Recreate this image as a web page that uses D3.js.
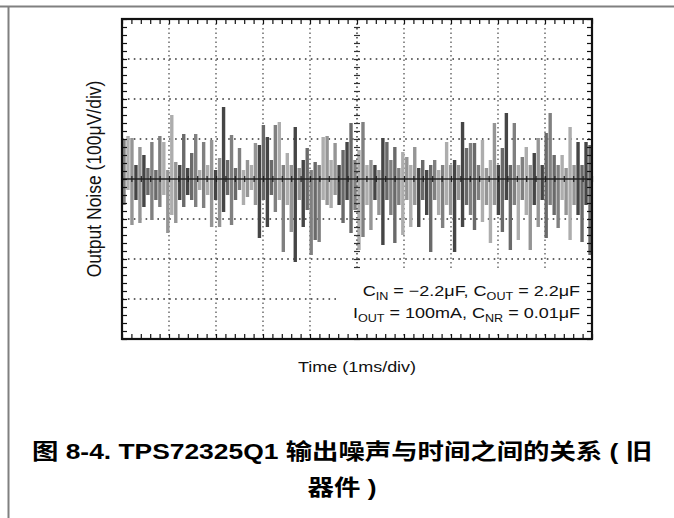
<!DOCTYPE html>
<html><head><meta charset="utf-8">
<script src="https://cdn.jsdelivr.net/npm/d3@7"></script>
<style>body{margin:0;background:#fff} svg{display:block}</style>
</head><body>
<script>
// ---- data ----
const timeDomain = [0, 10];          // ms (1 ms/div, 10 div)
const voltDomain = [-400, 400];      // µV (100 µV/div, 8 div)
const noiseHigh = [97.5,107.5,102.5,35,80,60,27.5,92.5,22.5,107.5,
  92.5,22.5,160,42.5,35,112.5,27.5,65,112.5,22.5,
  92.5,35,97.5,22.5,52.5,180,47.5,110,27.5,77.5,
  22.5,47.5,35,90,85,135,105,47.5,135,142.5,
  35,65,35,130,27.5,47.5,77.5,22.5,42.5,35,
  105,107.5,47.5,90,35,72.5,92.5,140,47.5,72.5,
  142.5,35,47.5,35,22.5,102.5,92.5,47.5,80,27.5,
  67.5,55,35,80,27.5,47.5,22.5,35,47.5,22.5,
  35,92.5,35,47.5,35,142.5,77.5,90,90,35,
  97.5,27.5,47.5,140,35,77.5,165,35,140,35,
  55,80,35,65,102.5,35,115,165,60,35,
  60,27.5,130,35,92.5,35,92.5,85];
const noiseLow = [-65,-27.5,-115,-52.5,-110,-70,-40,-102.5,-52.5,-70,
  -40,-135,-90,-110,-52.5,-70,-40,-52.5,-70,-27.5,
  -72.5,-40,-120,-52.5,-120,-82.5,-40,-115,-52.5,-27.5,
  -65,-45,-27.5,-65,-147.5,-52.5,-120,-40,-82.5,-52.5,
  -182.5,-65,-132.5,-207.5,-52.5,-120,-77.5,-190,-152.5,-157.5,
  -52.5,-65,-72.5,-40,-65,-110,-52.5,-135,-77.5,-177.5,
  -145,-65,-127.5,-52.5,-90,-165,-52.5,-90,-160,-65,
  -140,-52.5,-120,-65,-120,-52.5,-90,-182.5,-52.5,-90,
  -122.5,-65,-90,-182.5,-52.5,-120,-65,-90,-127.5,-52.5,
  -107.5,-65,-160,-65,-90,-132.5,-52.5,-177.5,-65,-152.5,
  -52.5,-90,-177.5,-65,-120,-52.5,-147.5,-65,-90,-122.5,
  -52.5,-90,-152.5,-65,-90,-157.5,-65,-190];
const xLabel = "Time (1ms/div)";
const yLabel = "Output Noise (100μV/div)";
const noteLine1 = [["C",""],["IN","sub"],[" = −2.2μF, C",""],["OUT","sub"],[" = 2.2μF",""]];
const noteLine2 = [["I",""],["OUT","sub"],[" = 100mA, C",""],["NR","sub"],[" = 0.01μF",""]];
const titleLines = ["图 8-4. TPS72325Q1 输出噪声与时间之间的关系 ( 旧", "器件 )"];

// ---- layout ----
const W = 674, H = 518;
const SX = 1.2; // horizontal text stretch of the original
const svg = d3.select("body").append("svg").attr("width", W).attr("height", H);
const x = d3.scaleLinear().domain(timeDomain).range([122, 592]);
const y = d3.scaleLinear().domain(voltDomain).range([339, 19]);

// page frame
svg.append("line").attr("x1",0).attr("x2",W).attr("y1",6.5).attr("y2",6.5).attr("stroke","#808080").attr("stroke-width",2);
svg.append("line").attr("x1",8.5).attr("x2",8.5).attr("y1",6).attr("y2",H).attr("stroke","#808080").attr("stroke-width",2);

// gridlines
const majorX = d3.range(1, 10);
const majorY = d3.range(-300, 400, 100).filter(v => v !== 0);
svg.append("g").selectAll("line").data(majorX).join("line")
  .attr("x1", d => x(d)).attr("x2", d => x(d)).attr("y1", y(400)).attr("y2", y(-400))
  .attr("stroke", "#555").attr("stroke-width", 1.3).attr("stroke-dasharray", "1.4,3.1");
svg.append("g").selectAll("line").data(majorY).join("line")
  .attr("x1", x(0)).attr("x2", x(10)).attr("y1", d => y(d)).attr("y2", d => y(d))
  .attr("stroke", "#333").attr("stroke-width", 1.4).attr("stroke-dasharray", "1.6,4.3");

// noise trace
const shades = ["#808080","#454545","#adadad","#6a6a6a","#959595"];
const N = noiseHigh.length;
const tAt = i => timeDomain[0] + (i + 0.5) * (timeDomain[1] - timeDomain[0]) / N;
const shadeOf = i => shades[(i * 7 + (i >> 2)) % shades.length];
svg.append("g").selectAll("line").data(noiseHigh).join("line")
  .attr("x1", (d, i) => x(tAt(i))).attr("x2", (d, i) => x(tAt(i)))
  .attr("y1", d => y(d)).attr("y2", (d, i) => y(noiseLow[i]))
  .attr("stroke", (d, i) => shadeOf(i)).attr("stroke-width", 3.4);

// center axes with ticks
const minorX = d3.range(0, 10.001, 0.2);
const minorY = d3.range(-400, 400.1, 20);
svg.append("line").attr("x1", x(0)).attr("x2", x(10)).attr("y1", y(0)).attr("y2", y(0))
  .attr("stroke", "#222").attr("stroke-width", 1.6);
svg.append("line").attr("x1", x(5)).attr("x2", x(5)).attr("y1", y(400)).attr("y2", y(-400))
  .attr("stroke", "#555").attr("stroke-width", 1.2).attr("stroke-dasharray", "1.3,3.2");
svg.append("g").attr("transform", `translate(0,${y(0)})`)
  .call(d3.axisBottom(x).tickValues(minorX).tickSize(3).tickFormat(""))
  .call(g => g.select(".domain").remove())
  .call(g => g.selectAll("line").attr("y1", -3).attr("stroke", "#222").attr("stroke-width", 1.2));
svg.append("g").attr("transform", `translate(${x(5)},0)`)
  .call(d3.axisLeft(y).tickValues(minorY).tickSize(3).tickFormat(""))
  .call(g => g.select(".domain").remove())
  .call(g => g.selectAll("line").attr("x2", 3).attr("x1", -3).attr("stroke", "#333").attr("stroke-width", 1.2));

// white box behind the note
svg.append("rect").attr("x", 340).attr("y", 270).attr("width", 250).attr("height", 64).attr("fill", "#fff");

// border ticks (inward)
function styleTicks(g){ g.select(".domain").remove(); g.selectAll("line").attr("stroke","#111").attr("stroke-width",1.2); }
svg.append("g").attr("transform", `translate(0,${y(-400)})`)
  .call(d3.axisBottom(x).tickValues(minorX).tickSize(-5).tickFormat("")).call(styleTicks);
svg.append("g").attr("transform", `translate(0,${y(400)})`)
  .call(d3.axisTop(x).tickValues(minorX).tickSize(-5).tickFormat("")).call(styleTicks);
svg.append("g").attr("transform", `translate(${x(0)},0)`)
  .call(d3.axisLeft(y).tickValues(minorY).tickSize(-5).tickFormat("")).call(styleTicks);
svg.append("g").attr("transform", `translate(${x(10)},0)`)
  .call(d3.axisRight(y).tickValues(minorY).tickSize(-5).tickFormat("")).call(styleTicks);

// border
svg.append("rect").attr("x", x(0)).attr("y", y(400)).attr("width", x(10) - x(0)).attr("height", y(-400) - y(400))
  .attr("fill", "none").attr("stroke", "#111").attr("stroke-width", 2.2);

// note
function richText(parent, parts, tx, ty){
  const t = parent.append("text").attr("transform", `translate(${tx},${ty}) scale(${SX},1)`)
    .attr("text-anchor", "end").attr("font-family", "Liberation Sans, Arial, sans-serif")
    .attr("font-size", 15).attr("fill", "#111");
  let shifted = false;
  parts.forEach(([s, k]) => {
    const sp = t.append("tspan").text(s);
    if (k === "sub") { sp.attr("font-size", 10.5).attr("dy", shifted ? 0 : 4); shifted = true; }
    else if (shifted) { sp.attr("dy", -4); shifted = false; }
  });
}
richText(svg, noteLine1, 580, 296);
richText(svg, noteLine2, 580, 318);

// axis labels
svg.append("text").attr("transform", `translate(${x(5)},372) scale(${SX},1)`)
  .attr("text-anchor", "middle").attr("font-family", "Liberation Sans, Arial, sans-serif")
  .attr("font-size", 15).attr("fill", "#111").text(xLabel);
svg.append("text").attr("transform", `translate(101,${y(0)}) scale(${SX},1) rotate(-90)`)
  .attr("text-anchor", "middle").attr("font-family", "Liberation Sans, Arial, sans-serif")
  .attr("font-size", 17.5).attr("fill", "#111").text(yLabel);

// title
svg.append("g").selectAll("text").data(titleLines).join("text")
  .attr("transform", (d, i) => `translate(342,${459 + i * 36}) scale(${SX},1)`)
  .attr("text-anchor", "middle").attr("font-family", "Liberation Sans, Arial, 'Noto Sans CJK SC', sans-serif")
  .attr("font-weight", "bold").attr("font-size", 22).attr("fill", "#000").text(d => d);
</script>
</body></html>
